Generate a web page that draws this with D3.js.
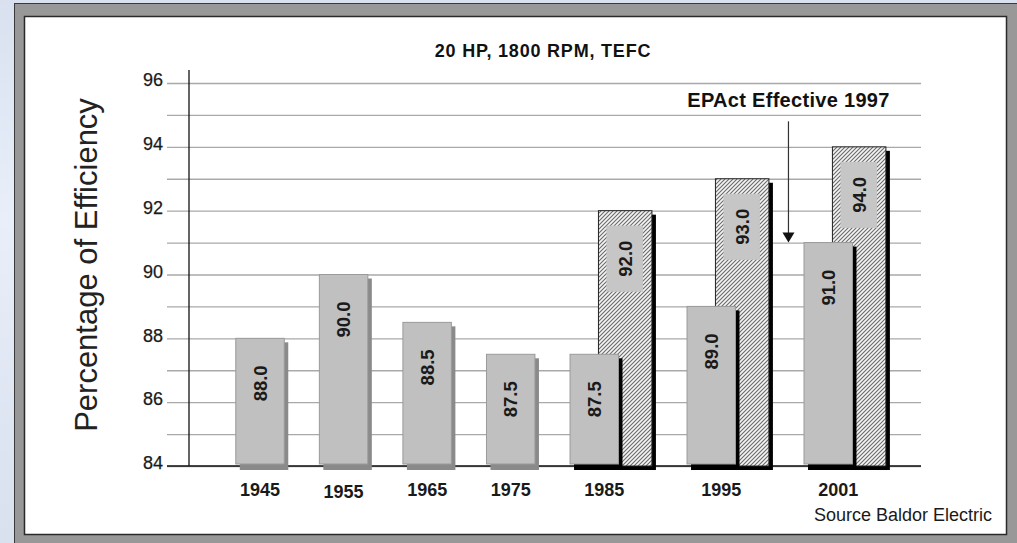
<!DOCTYPE html>
<html>
<head>
<meta charset="utf-8">
<script src="https://cdn.jsdelivr.net/npm/d3@7"></script>
<style>
  html, body { margin: 0; padding: 0; background: #fff; overflow: hidden; }
  svg { display: block; font-family: "Liberation Sans", Arial, sans-serif; }
</style>
</head>
<body>
<div id="chart"></div>
<script>
// Data
// =================================
var years       = ["1945", "1955", "1965", "1975", "1985", "1995", "2001"];
var standardEff = [88.0, 90.0, 88.5, 87.5, 87.5, 89.0, 91.0];
var premiumEff  = [null, null, null, null, 92.0, 93.0, 94.0];
var yTicks      = [84, 86, 88, 90, 92, 94, 96];
var chartTitle  = "20 HP, 1800 RPM, TEFC";
var yTitle      = "Percentage of Efficiency";
var noteLabel   = "EPAct Effective 1997";
var sourceLabel = "Source Baldor Electric";

// Step 1: chart geometry
// =================================
var svgWidth  = 1017;
var svgHeight = 543;

var plot = {
  gridLeft: 167,
  left:     189,
  right:    921,
  top:      83,
  bottom:   466
};

// horizontal layout in "slot" units: a single bar takes one slot,
// a year that also has a premium bar takes a wider slot
var grayW   = 0.58;
var premOff = 0.34;
var premW   = 0.64;
var gapU    = 0.42;

var rows = [];
var cursor = 0;
years.forEach(function(yr, i) {
  var hasPrem = premiumEff[i] != null;
  rows.push({year: yr, std: standardEff[i], prem: premiumEff[i], start: cursor, pair: hasPrem});
  cursor += (hasPrem ? premOff + premW : grayW) + gapU;
});

var x = d3.scaleLinear()
  .domain([-0.56, 8.2])
  .range([plot.left, plot.right]);

var y = d3.scaleLinear()
  .domain([84, 96])
  .range([plot.bottom, plot.top]);

// Step 2: svg + frame
// =================================
var svg = d3.select("#chart")
  .append("svg")
  .attr("width", svgWidth)
  .attr("height", svgHeight);

var defs = svg.append("defs");

var bg = defs.append("linearGradient")
  .attr("id", "bgGrad")
  .attr("x1", 0).attr("y1", 0).attr("x2", 0).attr("y2", 1);
bg.append("stop").attr("offset", "0%").attr("stop-color", "#d9e1f0");
bg.append("stop").attr("offset", "40%").attr("stop-color", "#e8effa");
bg.append("stop").attr("offset", "100%").attr("stop-color", "#d9e0ee");

var hatch = defs.append("pattern")
  .attr("id", "hatch")
  .attr("patternUnits", "userSpaceOnUse")
  .attr("width", 4)
  .attr("height", 4);
hatch.append("rect").attr("width", 4).attr("height", 4).attr("fill", "#f4f4f4");
hatch.append("path")
  .attr("d", "M-1,1 l2,-2 M0,4 l4,-4 M3,5 l2,-2")
  .attr("stroke", "#6a6a6a")
  .attr("stroke-width", 1.1);

svg.append("rect")
  .attr("width", svgWidth).attr("height", svgHeight)
  .attr("fill", "url(#bgGrad)");

svg.append("rect")
  .attr("x", 14.5).attr("y", 3.5)
  .attr("width", svgWidth).attr("height", svgHeight)
  .attr("fill", "#989898")
  .attr("stroke", "#3a3a3a");

svg.append("rect")
  .attr("x", 24.5).attr("y", 16.5)
  .attr("width", 982).attr("height", 518)
  .attr("fill", "#ffffff")
  .attr("stroke", "#2a2a2a")
  .attr("stroke-width", 1.5);

// Step 3: gridlines + axes
// =================================
var leftAxis = d3.axisLeft(y)
  .tickValues(d3.range(84, 97))
  .tickSize(-(plot.right - plot.gridLeft))
  .tickPadding(4)
  .tickFormat(function(d) { return yTicks.indexOf(d) >= 0 ? d : ""; });

var yAxisG = svg.append("g")
  .attr("transform", `translate(${plot.gridLeft}, 0)`)
  .call(leftAxis);
yAxisG.select(".domain").remove();
yAxisG.selectAll("line")
  .attr("stroke", "#a9a9a9")
  .attr("stroke-width", 1.3);
yAxisG.selectAll("text")
  .attr("font-size", 18)
  .attr("font-family", "Liberation Sans, Arial, sans-serif")
  .attr("fill", "#1a1a1a")
  .attr("stroke", "#1a1a1a")
  .attr("stroke-width", 0.25)
  .attr("dy", "0.15em");

// baseline
svg.append("line")
  .attr("x1", plot.gridLeft).attr("x2", plot.right)
  .attr("y1", y(84)).attr("y2", y(84))
  .attr("stroke", "#111")
  .attr("stroke-width", 1.4);

// vertical axis line
svg.append("line")
  .attr("x1", plot.left).attr("x2", plot.left)
  .attr("y1", 70).attr("y2", y(84))
  .attr("stroke", "#111")
  .attr("stroke-width", 1.3);

// Step 4: premium (hatched) bars
// =================================
var premRows = rows.filter(function(d) { return d.pair; });

function premX(d) { return x(d.start + premOff); }
function premWidth(d) { return x(d.start + premOff + premW) - x(d.start + premOff); }

var premG = svg.append("g").attr("id", "premium");

premG.selectAll("rect.shadow")
  .data(premRows)
  .enter().append("rect")
  .attr("class", "shadow")
  .attr("x", d => premX(d) + 4)
  .attr("y", d => y(d.prem) + 4)
  .attr("width", d => premWidth(d))
  .attr("height", d => y(84) - y(d.prem))
  .attr("fill", "#000");

premG.selectAll("rect.bar")
  .data(premRows)
  .enter().append("rect")
  .attr("class", "bar")
  .attr("x", d => premX(d))
  .attr("y", d => y(d.prem))
  .attr("width", d => premWidth(d))
  .attr("height", d => y(84) - y(d.prem))
  .attr("fill", "url(#hatch)")
  .attr("stroke", "#222")
  .attr("stroke-width", 1);

premG.selectAll("rect.labelBox")
  .data(premRows)
  .enter().append("rect")
  .attr("class", "labelBox")
  .attr("x", d => premX(d) + 8)
  .attr("y", d => y(d.prem) + 15)
  .attr("width", d => premWidth(d) - 17)
  .attr("height", 66)
  .attr("fill", "#c6c6c6");

premG.selectAll("text")
  .data(premRows)
  .enter().append("text")
  .attr("transform", d => `translate(${premX(d) + premWidth(d) / 2}, ${y(d.prem) + 30}) rotate(-90)`)
  .attr("text-anchor", "end")
  .attr("dy", "0.36em")
  .attr("font-size", 18.5)
  .attr("font-weight", "bold")
  .attr("fill", "#1a1a1a")
  .text(d => d.prem.toFixed(1));

// Step 5: standard (gray) bars
// =================================
function stdX(d) { return x(d.start); }
function stdWidth(d) { return x(d.start + grayW) - x(d.start); }

var stdG = svg.append("g").attr("id", "standard");

stdG.selectAll("rect.shadow")
  .data(rows)
  .enter().append("rect")
  .attr("class", "shadow")
  .attr("x", d => stdX(d) + 4)
  .attr("y", d => y(d.std) + 4)
  .attr("width", d => stdWidth(d))
  .attr("height", d => y(84) - y(d.std))
  .attr("fill", d => d.pair ? "#000" : "#8a8a8a");

stdG.selectAll("rect.bar")
  .data(rows)
  .enter().append("rect")
  .attr("class", "bar")
  .attr("x", d => stdX(d))
  .attr("y", d => y(d.std))
  .attr("width", d => stdWidth(d))
  .attr("height", d => y(84) - y(d.std) - 2)
  .attr("fill", "#c0c0c0")
  .attr("stroke", "#9a9a9a")
  .attr("stroke-width", 1);

stdG.selectAll("text")
  .data(rows)
  .enter().append("text")
  .attr("transform", d => `translate(${stdX(d) + stdWidth(d) / 2}, ${y(d.std) + 27}) rotate(-90)`)
  .attr("text-anchor", "end")
  .attr("dy", "0.36em")
  .attr("font-size", 18.5)
  .attr("font-weight", "bold")
  .attr("fill", "#1a1a1a")
  .text(d => d.std.toFixed(1));

// Step 6: year labels
// =================================
svg.append("g")
  .attr("id", "xLabels")
  .selectAll("text")
  .data(rows)
  .enter().append("text")
  .attr("x", d => x(d.start + grayW / 2 + (d.pair ? 0.12 : 0)))
  .attr("y", (d, i) => i === 1 ? 498 : 496)
  .attr("text-anchor", "middle")
  .attr("font-size", 18)
  .attr("font-weight", "bold")
  .attr("fill", "#1a1a1a")
  .text(d => d.year);

// Step 7: titles + annotation
// =================================
svg.append("text")
  .attr("x", 543)
  .attr("y", 57)
  .attr("text-anchor", "middle")
  .attr("font-size", 18)
  .attr("font-weight", "bold")
  .attr("letter-spacing", 0.8)
  .attr("fill", "#111")
  .text(chartTitle);

svg.append("text")
  .attr("transform", "translate(97, 265) rotate(-90)")
  .attr("text-anchor", "middle")
  .attr("font-size", 31)
  .attr("fill", "#222")
  .text(yTitle);

svg.append("text")
  .attr("x", 992)
  .attr("y", 521)
  .attr("text-anchor", "end")
  .attr("font-size", 18)
  .attr("fill", "#1a1a1a")
  .text(sourceLabel);

// arrow sits halfway between the 1995 group and the 2001 group
var r95 = rows[5], r01 = rows[6];
var arrowX = (x(r95.start + premOff + premW) + 4 + x(r01.start)) / 2;

svg.append("text")
  .attr("x", arrowX)
  .attr("y", y(95.25))
  .attr("text-anchor", "middle")
  .attr("font-size", 20)
  .attr("font-weight", "bold")
  .attr("letter-spacing", 0.3)
  .attr("fill", "#111")
  .text(noteLabel);

svg.append("line")
  .attr("x1", arrowX).attr("x2", arrowX)
  .attr("y1", y(94.8)).attr("y2", y(91) - 8)
  .attr("stroke", "#333")
  .attr("stroke-width", 1.2);

svg.append("path")
  .attr("d", `M${arrowX - 6},${y(91) - 10} L${arrowX + 6},${y(91) - 10} L${arrowX},${y(91)} Z`)
  .attr("fill", "#111");
</script>
</body>
</html>
